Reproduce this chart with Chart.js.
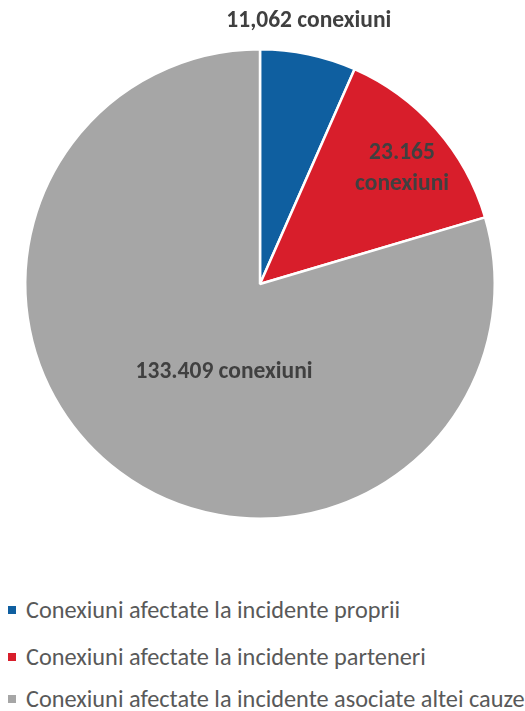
<!DOCTYPE html>
<html>
<head>
<meta charset="utf-8">
<script src="https://cdn.jsdelivr.net/npm/chart.js@4"></script>
<style>
  html, body { margin: 0; padding: 0; background: #fff; }
  #wrap { position: relative; width: 525px; height: 711px; }
  #box { position: absolute; left: 0; top: 0; width: 525px; height: 540px; }
  #legend { position: absolute; left: 8px; top: 0; font-family: Carlito, Lato, sans-serif; font-size: 24.3px; color: #595959; }
  .item { position: absolute; left: 0; white-space: nowrap; display: flex; align-items: center; }
  .sw { width: 8px; height: 8px; margin-right: 10px; display: inline-block; }
</style>
</head>
<body>
<div id="wrap">
  <div id="box"><canvas id="c"></canvas></div>
  <div id="legend"></div>
</div>
<script>
const categories = [
  "Conexiuni afectate la incidente proprii",
  "Conexiuni afectate la incidente parteneri",
  "Conexiuni afectate la incidente asociate altei cauze"
];
const values = [11062, 23165, 133409];
const valueLabels = [["11,062 conexiuni"], ["23.165", "conexiuni"], ["133.409 conexiuni"]];
const colors = ["#0F5FA0", "#D81E2B", "#A6A6A6"];

// label placement (relative to pie center, in fractions of radius)
const labelPlacement = [
  { dx: 0.208, dy: -1.12 },
  { dx: 0.605, dy: -0.49 },
  { dx: -0.153, dy: 0.377 }
];

const labelPlugin = {
  id: 'valueLabels',
  afterDatasetsDraw(chart) {
    const ctx = chart.ctx;
    const meta = chart.getDatasetMeta(0);
    ctx.save();
    ctx.font = "bold 23.5px Carlito, Lato, sans-serif";
    ctx.fillStyle = "#404040";
    ctx.textAlign = "center";
    ctx.textBaseline = "middle";
    meta.data.forEach((arc, i) => {
      const R = arc.outerRadius;
      const x = arc.x + labelPlacement[i].dx * R;
      const y = arc.y + labelPlacement[i].dy * R;
      const lines = valueLabels[i];
      const lh = 31;
      lines.forEach((t, k) => {
        ctx.fillText(t, x, y + (k - (lines.length - 1) / 2) * lh);
      });
    });
    ctx.restore();
  }
};

new Chart(document.getElementById('c'), {
  type: 'pie',
  data: {
    labels: categories,
    datasets: [{
      data: values,
      backgroundColor: colors,
      borderColor: "#ffffff",
      borderWidth: 2.5
    }]
  },
  options: {
    responsive: true,
    maintainAspectRatio: false,
    animation: false,
    layout: { padding: { top: 48, bottom: 20, left: 24, right: 29 } },
    plugins: {
      legend: { display: false },
      tooltip: { enabled: false }
    }
  },
  plugins: [labelPlugin]
});

const legendTops = [610, 657, 699];
const lg = document.getElementById('legend');
categories.forEach((c, i) => {
  const d = document.createElement('div');
  d.className = 'item';
  d.style.top = (legendTops[i] - 15) + 'px';
  d.style.height = '30px';
  d.innerHTML = '<span class="sw" style="background:' + colors[i] + '"></span><span>' + c + '</span>';
  lg.appendChild(d);
});
</script>
</body>
</html>
